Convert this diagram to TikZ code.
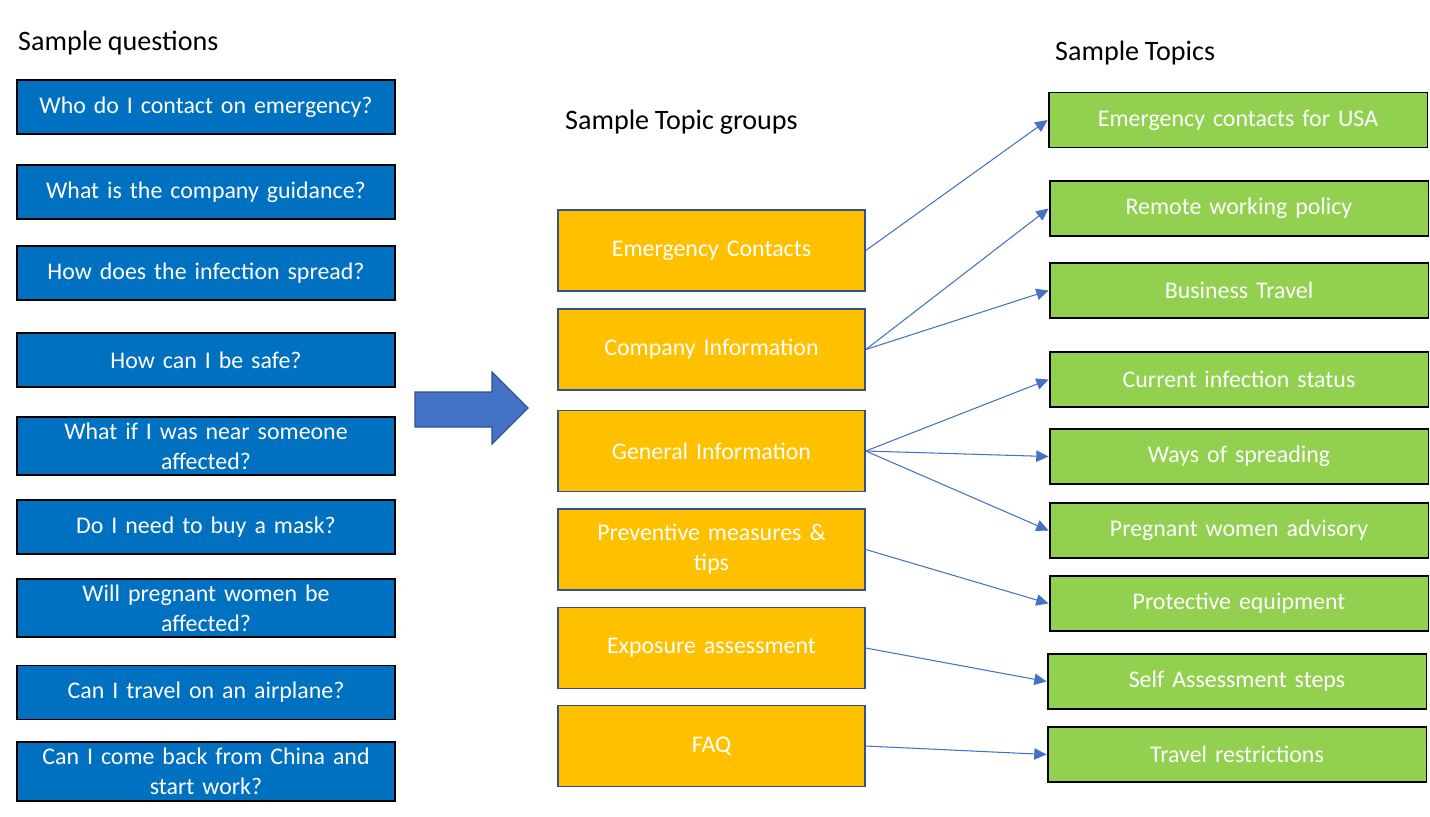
\documentclass[tikz,border=0pt]{standalone}
\usepackage{fontspec}
\setmainfont{Carlito}[WordSpace=0.9]
\usetikzlibrary{arrows.meta,positioning}
\definecolor{qblue}{HTML}{0070C0}
\definecolor{grpgold}{HTML}{FFC000}
\definecolor{grpedge}{HTML}{2F528F}
\definecolor{topgreen}{HTML}{92D050}
\definecolor{linkblue}{HTML}{4472C4}

\begin{document}
\begin{tikzpicture}[
  x=0.02cm, y=-0.02cm,
  every node/.style={font=\fontsize{13.6}{17}\selectfont},
  title/.style={anchor=west, font=\fontsize{16}{19}\selectfont},
  question/.style={draw=black, line width=1.1pt, fill=qblue, text=white,
                   minimum width=7.56cm, minimum height=1.08cm, text width=7.2cm, align=center},
  group/.style={draw=grpedge, line width=0.9pt, fill=grpgold, text=white,
                minimum width=6.14cm, minimum height=1.62cm, text width=5.8cm, align=center},
  topic/.style={draw=black, line width=1.1pt, fill=topgreen, text=white,
                minimum width=7.58cm, minimum height=1.1cm, text width=7.2cm, align=center},
  link/.style={-{Triangle[length=7pt,width=6.5pt]}, line width=0.6pt, linkblue}
]
\useasboundingbox (0,0) rectangle (1430,816);

% column titles
\node[title] (qtitle) at (12,43)   {Sample questions};
\node[title] (gtitle) at (559,122) {Sample Topic groups};
\node[title] (ttitle) at (1049,53) {Sample Topics};

% questions
\node[question] (q1) at (206,107)   {Who do I contact on emergency?};
\node[question] (q2) at (206,192)   {What is the company guidance?};
\node[question] (q3) at (206,273)   {How does the infection spread?};
\node[question] (q4) at (206,360)   {How can I be safe?};
\node[question] (q5) at (206,446)   {What if I was near someone\\affected?};
\node[question] (q6) at (206,527)   {Do I need to buy a mask?};
\node[question] (q7) at (206,608)   {Will pregnant women be\\affected?};
\node[question] (q8) at (206,692.5) {Can I travel on an airplane?};
\node[question] (q9) at (206,771.5) {Can I come back from China and\\start work?};

% block arrow
\draw[fill=linkblue, draw=grpedge, line width=0.7pt]
  (415,392) -- (492,392) -- (492,372) -- (528,408) -- (492,444) -- (492,427) -- (415,427) -- cycle;

% topic groups
\node[group] (emerg)   at (711.5,250.5) {Emergency Contacts};
\node[group] (company) at (711.5,349.5) {Company Information};
\node[group] (general) at (711.5,451)   {General Information};
\node[group] (prevent) at (711.5,549.5) {Preventive measures \&\\tips};
\node[group] (expo)    at (711.5,648)   {Exposure assessment};
\node[group] (faq)     at (711.5,746)   {FAQ};

% topics
\node[topic] (usa)      at (1238,120)   {Emergency contacts for USA};
\node[topic] (remote)   at (1239,208.5) {Remote working policy};
\node[topic] (travel)   at (1239,290.5) {Business Travel};
\node[topic] (status)   at (1239,379.5) {Current infection status};
\node[topic] (spread)   at (1239,456.5) {Ways of spreading};
\node[topic] (pregnant) at (1239,530.5) {Pregnant women advisory};
\node[topic] (equip)    at (1239,603.5) {Protective equipment};
\node[topic] (selfas)   at (1237,681.5) {Self Assessment steps};
\node[topic] (restrict) at (1237,754.5) {Travel restrictions};

\foreach \from/\to in {emerg/usa, company/remote, company/travel, general/status,
                       general/spread, general/pregnant, prevent/equip, expo/selfas, faq/restrict}
  \draw[link] (\from.east) -- (\to.west);
\end{tikzpicture}
\end{document}
